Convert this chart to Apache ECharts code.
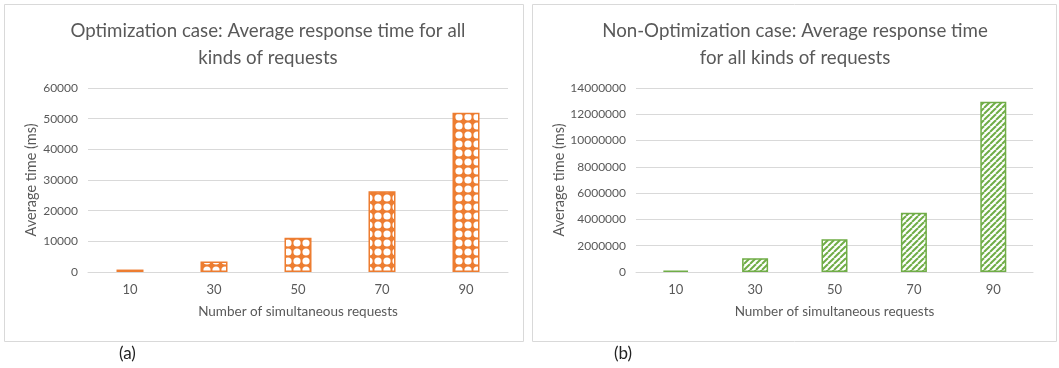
<!DOCTYPE html>
<html><head><meta charset="utf-8">
<script src="https://cdn.jsdelivr.net/npm/echarts@6/dist/echarts.min.js"></script>
<style>html,body{margin:0;padding:0;background:#fff}#c{width:1059px;height:368px}</style>
</head><body><div id="c"></div>
<script>
const categories = ['10', '30', '50', '70', '90'];
const optValues = [800, 3400, 11200, 26300, 51900];
const nonOptValues = [100000, 1050000, 2500000, 4500000, 12950000];
const optTitle = 'Optimization case: Average response time for all\nkinds of requests';
const nonOptTitle = 'Non-Optimization case: Average response time\nfor all kinds of requests';
const yName = 'Average time (ms)';
const xName = 'Number of simultaneous requests';

const ORANGE = '#ED7D31', GREEN = '#70AD47';
function dotPattern() {
  const c = document.createElement('canvas'); c.width = 9; c.height = 9;
  const g = c.getContext('2d');
  g.fillStyle = ORANGE; g.fillRect(0, 0, 9, 9);
  g.fillStyle = '#fff';
  [[0,0],[9,0],[0,9],[9,9]].forEach(p => { g.beginPath(); g.arc(p[0], p[1], 3.6, 0, Math.PI*2); g.fill(); });
  return c;
}
function stripePattern() {
  const s = 6;
  const c = document.createElement('canvas'); c.width = s; c.height = s;
  const g = c.getContext('2d');
  g.fillStyle = '#fff'; g.fillRect(0, 0, s, s);
  g.strokeStyle = GREEN; g.lineWidth = 2;
  for (let k = -1; k <= 1; k++) {
    g.beginPath(); g.moveTo(k*s, s); g.lineTo(k*s + s, 0); g.stroke();
  }
  return c;
}
const font = 'Lato, "Open Sans", sans-serif';
const grey = '#595959';
const chart = echarts.init(document.getElementById('c'));
function yAxis(gi, gap) {
  return {
    type: 'value', gridIndex: gi, min: 0,
    name: yName, nameLocation: 'middle', nameGap: gap,
    nameTextStyle: { color: grey, fontSize: 14.5, fontFamily: font },
    axisLabel: { color: grey, fontSize: 12, fontFamily: font, margin: 10, formatter: v => String(v) },
    axisLine: { show: false }, axisTick: { show: false },
    splitLine: { lineStyle: { color: '#d9d9d9', width: 1 } }
  };
}
function xAxis(gi) {
  return {
    type: 'category', gridIndex: gi, data: categories,
    name: xName, nameLocation: 'middle', nameGap: 33,
    nameTextStyle: { color: grey, fontSize: 13.5, fontFamily: font },
    axisLabel: { color: grey, fontSize: 13, fontFamily: font, margin: 11 },
    axisLine: { lineStyle: { color: '#d9d9d9' } }, axisTick: { show: false }
  };
}
chart.setOption({
  animation: false,
  title: [
    { text: optTitle, left: 263, top: 12, textAlign: 'center',
      textStyle: { color: grey, fontSize: 18.7, fontWeight: 'normal', fontFamily: font, lineHeight: 27 } },
    { text: nonOptTitle, left: 790, top: 12, textAlign: 'center',
      textStyle: { color: grey, fontSize: 18.7, fontWeight: 'normal', fontFamily: font, lineHeight: 27 } }
  ],
  grid: [
    { left: 88, right: 551, top: 88, bottom: 96 },
    { left: 636, right: 26, top: 88, bottom: 96 }
  ],
  xAxis: [xAxis(0), xAxis(1)],
  yAxis: [
    Object.assign(yAxis(0, 49), { max: 60000, interval: 10000 }),
    Object.assign(yAxis(1, 69), { max: 14000000, interval: 2000000 })
  ],
  series: [
    { type: 'bar', xAxisIndex: 0, yAxisIndex: 0, data: optValues, barWidth: 27,
      itemStyle: { color: { image: dotPattern(), repeat: 'repeat' }, borderColor: ORANGE, borderWidth: 1.5 } },
    { type: 'bar', xAxisIndex: 1, yAxisIndex: 1, data: nonOptValues, barWidth: 26,
      itemStyle: { color: { image: stripePattern(), repeat: 'repeat' }, borderColor: GREEN, borderWidth: 1.5 } }
  ],
  graphic: [
    { type: 'rect', shape: { x: 4.5, y: 4.5, width: 519, height: 337 }, style: { fill: 'none', stroke: '#d9d9d9', lineWidth: 1 }, silent: true },
    { type: 'rect', shape: { x: 532.5, y: 4.5, width: 524, height: 337 }, style: { fill: 'none', stroke: '#d9d9d9', lineWidth: 1 }, silent: true },
    { type: 'text', left: 119, top: 345, style: { text: '(a)', fill: '#222', font: '17px ' + font } },
    { type: 'text', left: 614, top: 345, style: { text: '(b)', fill: '#222', font: '17px ' + font } }
  ]
});
</script></body></html>
